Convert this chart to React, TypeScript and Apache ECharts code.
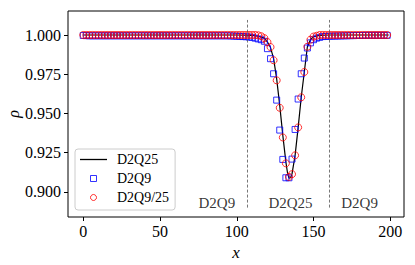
import React, { useEffect, useRef } from "react";
import * as echarts from "echarts";

const FONT = "'Liberation Serif', serif";

// marker grid (x) shared by both point series
const markerX = [
  0, 2, 4, 6, 8, 10, 12, 14, 16, 18, 20, 22, 24, 26, 28, 30, 32, 34, 36, 38,
  40, 42, 44, 46, 48, 50, 52, 54, 56, 58, 60, 62, 64, 66, 68, 70, 72, 74, 76, 78,
  80, 82, 84, 86, 88, 90, 92, 94, 96, 98, 100, 102, 104, 106, 108, 110, 112, 114, 116, 118,
  120, 122, 124, 126, 128, 130, 132, 134, 136, 138, 140, 142, 144, 146, 148, 150, 152, 154, 156, 158,
  160, 162, 164, 166, 168, 170, 172, 174, 176, 178, 180, 182, 184, 186, 188, 190, 192, 194, 196, 198,
];

// D2Q9/25 (red circles)
const rhoHybrid = [
  1, 1, 1, 1, 1, 1, 1, 1, 1, 1, 1, 1, 1, 1, 1, 1, 1, 1, 1, 1,
  1, 1, 1, 1, 1, 1, 1, 1, 1, 1, 1, 1, 1, 1, 1, 1, 1, 1, 1, 1,
  1, 1, 1, 1, 1, 1, 1, 1, 1, 1, 1, 1, 1, 1, 1, 1, 1, 0.9998, 0.9992, 0.998,
  0.9955, 0.9923, 0.9839, 0.9711, 0.9536, 0.9347, 0.9182, 0.9096, 0.9113, 0.9233, 0.9411, 0.9603, 0.9764, 0.9925, 0.997, 0.999, 0.9995, 1, 1, 1,
  1, 1, 1, 1, 1, 1, 1, 1, 1, 1, 1, 1, 1, 1, 1, 1, 1, 1, 1, 1,
];

// D2Q9 (blue squares)
const rhoD2Q9 = [
  0.9997, 0.9996, 0.9995, 0.9995, 0.9995, 0.9995, 0.9995, 0.9995, 0.9995, 0.9995, 0.9995, 0.9995, 0.9995, 0.9995, 0.9995, 0.9995, 0.9995, 0.9995, 0.9995, 0.9995,
  0.9995, 0.9995, 0.9995, 0.9995, 0.9995, 0.9995, 0.9995, 0.9995, 0.9995, 0.9995, 0.9995, 0.9995, 0.9995, 0.9995, 0.9995, 0.9995, 0.9995, 0.9995, 0.9995, 0.9995,
  0.9995, 0.9995, 0.9995, 0.9995, 0.9995, 0.9995, 0.9995, 0.9995, 0.9994, 0.9993, 0.9992, 0.9991, 0.999, 0.9989, 0.9987, 0.9985, 0.998, 0.9975, 0.997, 0.996,
  0.9913, 0.9849, 0.9753, 0.9585, 0.9394, 0.9207, 0.909, 0.909, 0.9209, 0.9398, 0.9592, 0.9753, 0.9853, 0.9917, 0.995, 0.997, 0.998, 0.9985, 0.999, 0.9991,
  0.9992, 0.9993, 0.9993, 0.9994, 0.9994, 0.9995, 0.9995, 0.9996, 0.9996, 0.9997, 0.9997, 0.9997, 0.9998, 0.9998, 0.9998, 0.9998, 0.9998, 0.9998, 0.9998, 0.9998,
];

// D2Q25 reference (black line)
const lineX = [0, 100, 110, 114, 118, 120, 122, 124, 126, 128, 130, 132, 133, 134, 135, 136, 138, 140, 142, 144, 146, 148, 150, 154, 160, 199];
const lineY = [1, 1, 0.9998, 0.9992, 0.998, 0.9955, 0.992, 0.985, 0.972, 0.955, 0.936, 0.919, 0.9125, 0.9088, 0.909, 0.9115, 0.9233, 0.9411, 0.9603, 0.9764, 0.9925, 0.997, 0.999, 0.9998, 1, 1];

// region boundaries and labels
const boundaryX = [107, 160];
const boundaryRange = [0.89, 1.0096];
const regionX = [87, 135, 180];
const regionY = [0.893, 0.893, 0.893];
const regionNames = ["D2Q9", "D2Q25", "D2Q9"];

const xTicks = [0, 50, 100, 150, 200];
const yTicks = [0.9, 0.925, 0.95, 0.975, 1.0];

export default function App() {
  const ref = useRef<HTMLDivElement>(null);
  useEffect(() => {
    const chart = echarts.init(ref.current!, null, { renderer: "svg" });
    const zip = (xs: number[], ys: number[]) => xs.map((x, i) => [x, ys[i]]);
    chart.setOption({
      animation: false,
      backgroundColor: "#fff",
      grid: {
        left: 68,
        right: 11,
        top: 11,
        bottom: 48,
        containLabel: false,
        outerBoundsMode: "none",
        show: true,
        borderColor: "#000",
        borderWidth: 1,
        backgroundColor: "transparent",
      },
      xAxis: {
        type: "value",
        min: -9.95,
        max: 208.95,
        name: "x",
        nameLocation: "middle",
        nameGap: 27,
        nameMoveOverlap: false,
        nameTextStyle: { fontFamily: FONT, fontSize: 17, fontStyle: "italic", color: "#000" },
        axisLine: { show: false, onZero: false },
        splitLine: { show: false },
        axisTick: { show: true, inside: false, length: 4, lineStyle: { color: "#000", width: 1 }, customValues: xTicks },
        axisLabel: { fontFamily: FONT, fontSize: 16, color: "#000", margin: 6, customValues: xTicks },
      },
      yAxis: {
        type: "value",
        min: 0.884,
        max: 1.0153,
        name: "ρ",
        nameLocation: "middle",
        nameGap: 47,
        nameRotate: 90,
        nameMoveOverlap: false,
        nameTextStyle: { fontFamily: FONT, fontSize: 16, fontStyle: "italic", color: "#000" },
        axisLine: { show: false, onZero: false },
        splitLine: { show: false },
        axisTick: { show: true, inside: false, length: 4, lineStyle: { color: "#000", width: 1 }, customValues: yTicks },
        axisLabel: {
          fontFamily: FONT,
          fontSize: 16,
          color: "#000",
          margin: 7,
          customValues: yTicks,
          formatter: (v: number) => v.toFixed(3),
        },
      },
      legend: {
        orient: "vertical",
        left: 75,
        top: 149,
        padding: [1, 6, 3, 5],
        itemGap: 0,
        itemWidth: 27,
        itemHeight: 6,
        backgroundColor: "rgba(255,255,255,0.8)",
        borderColor: "#cccccc",
        borderWidth: 1,
        borderRadius: 3,
        textStyle: { fontFamily: FONT, fontSize: 14, color: "#000", lineHeight: 19, padding: [0, 0, 0, 5] },
        data: [
          {
            name: "D2Q25",
            icon: "path://M0,0L27,0L27,1.3L0,1.3Z",
            itemStyle: { color: "#000", borderWidth: 0 },
          },
          {
            name: "D2Q9",
            icon: "path://M0,0L10,0L10,10L0,10Z",
            itemStyle: { color: "transparent", borderColor: "#0000ff", borderWidth: 1 },
          },
          {
            name: "D2Q9/25",
            icon: "circle",
            itemStyle: { color: "transparent", borderColor: "#ff0000", borderWidth: 1 },
          },
        ],
      },
      series: [
        {
          name: "D2Q25",
          type: "line",
          data: zip(lineX, lineY),
          symbol: "none",
          lineStyle: { color: "#000", width: 1.2 },
          itemStyle: { color: "#000" },
          z: 2,
          markLine: {
            silent: true,
            symbol: "none",
            label: { show: false },
            lineStyle: { color: "#555", width: 0.8, type: [3, 2] },
            data: boundaryX.map((x) => [
              { coord: [x, boundaryRange[0]] },
              { coord: [x, boundaryRange[1]] },
            ]),
          },
        },
        {
          name: "D2Q9",
          type: "scatter",
          data: zip(markerX, rhoD2Q9),
          symbol: "rect",
          symbolSize: 6,
          itemStyle: { color: "transparent", borderColor: "#0000ff", borderWidth: 1 },
          z: 3,
        },
        {
          name: "D2Q9/25",
          type: "scatter",
          data: zip(markerX, rhoHybrid),
          symbol: "circle",
          symbolSize: 7,
          itemStyle: { color: "transparent", borderColor: "#ff0000", borderWidth: 1 },
          z: 4,
        },
        {
          name: "regionLabels",
          type: "scatter",
          silent: true,
          symbolSize: 0,
          data: regionX.map((x, i) => [x, regionY[i]]),
          label: {
            show: true,
            position: "inside",
            formatter: (p: any) => regionNames[p.dataIndex],
            fontFamily: FONT,
            fontSize: 15,
            color: "#000",
          },
          z: 5,
        },
      ],
    });
    return () => chart.dispose();
  }, []);
  return <div ref={ref} style={{ position: "fixed", left: 0, top: 0, width: 415, height: 265 }} />;
}
